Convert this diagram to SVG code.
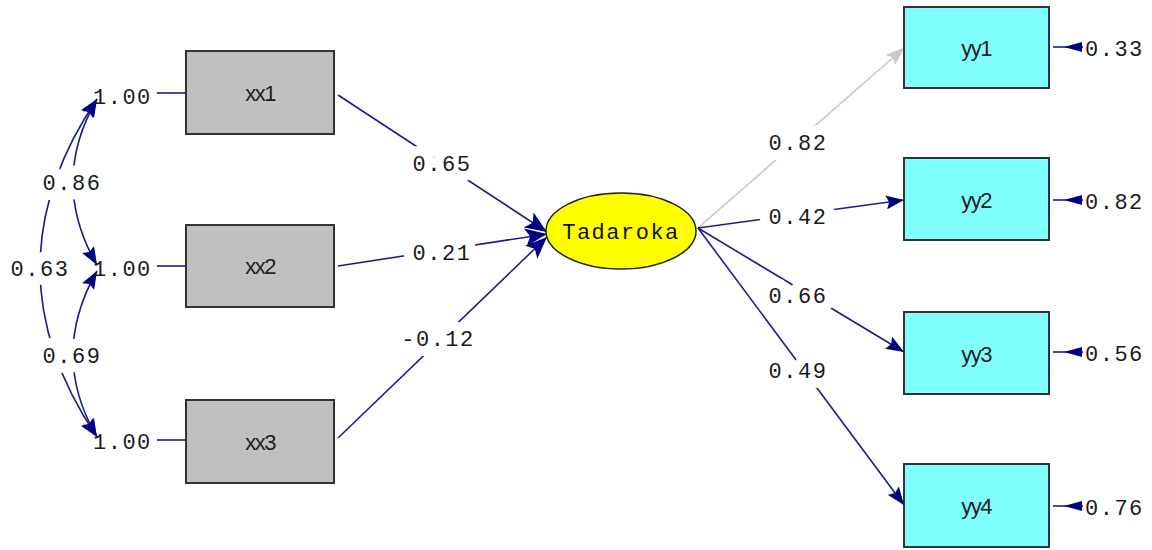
<svg xmlns="http://www.w3.org/2000/svg" width="1152" height="550" viewBox="0 0 1152 550">
  <style>
    .obs-x { fill: #c0c0c0; stroke: #333; stroke-width: 2; }
    .obs-y { fill: #80ffff; stroke: #333; stroke-width: 2; }
    .lat { fill: #ffff00; stroke: #222; stroke-width: 1.5; }
    .name { font-family: "Liberation Sans", Arial, sans-serif; font-size: 22px; fill: #222; text-anchor: middle; letter-spacing: -1.5px; }
    .latname { font-family: "Liberation Mono", "DejaVu Sans Mono", monospace; font-size: 22px; fill: #111; text-anchor: middle; letter-spacing: 1.5px; }
    .num { font-family: "Liberation Mono", "DejaVu Sans Mono", monospace; font-size: 22px; fill: #1a1a1a; letter-spacing: 1.5px; }
    .lbl { text-anchor: middle; stroke: #fff; stroke-width: 20px; paint-order: stroke; stroke-linejoin: round; }
    .path { fill: none; stroke: #1c1c8c; stroke-width: 1.6; }
    .path-gray { fill: none; stroke: #c8c8c8; stroke-width: 1.6; }
  </style>
  <defs>
    <marker id="head-big" markerUnits="userSpaceOnUse" markerWidth="24" markerHeight="18" refX="22" refY="9" orient="auto">
      <path d="M0,0 L22,9 L0,18 L5,9 z" fill="#000080"/>
    </marker>
    <marker id="head" markerUnits="userSpaceOnUse" markerWidth="20" markerHeight="14" refX="18" refY="7" orient="auto">
      <path d="M0,0 L18,7 L0,14 L3,7 z" fill="#000080"/>
    </marker>
    <marker id="head-gray" markerUnits="userSpaceOnUse" markerWidth="20" markerHeight="14" refX="18" refY="7" orient="auto">
      <path d="M0,0 L18,7 L0,14 L3,7 z" fill="#c8c8c8"/>
    </marker>
    <marker id="head-cov" markerUnits="userSpaceOnUse" markerWidth="20" markerHeight="14" refX="18" refY="7" orient="auto-start-reverse">
      <path d="M0,0 L18,7 L0,14 L3,7 z" fill="#000080"/>
    </marker>
  </defs>

  <!-- connectors -->
  <g id="connectors">
    <!-- covariances among the exogenous variables -->
    <path class="path" d="M97,99 Q-17,268 97,437" marker-start="url(#head-cov)" marker-end="url(#head-cov)"/>
    <path class="path" d="M97,99 Q49,182 97,265" marker-start="url(#head-cov)" marker-end="url(#head-cov)"/>
    <path class="path" d="M97,271 Q49,355 97,437" marker-start="url(#head-cov)" marker-end="url(#head-cov)"/>
    <!-- variance stubs -->
    <line class="path" x1="157" y1="93" x2="186" y2="93"/>
    <line class="path" x1="157" y1="266" x2="186" y2="266"/>
    <line class="path" x1="157" y1="440" x2="186" y2="440"/>
    <!-- structural paths into the latent variable -->
    <line class="path" x1="338" y1="95" x2="547" y2="232" marker-end="url(#head-big)"/>
    <line class="path" x1="338" y1="266" x2="547" y2="234" marker-end="url(#head-big)"/>
    <line class="path" x1="338" y1="438" x2="547" y2="237" marker-end="url(#head-big)"/>
    <!-- loadings -->
    <line class="path-gray" x1="698" y1="228" x2="904" y2="48" marker-end="url(#head-gray)"/>
    <line class="path" x1="698" y1="228" x2="904" y2="200" marker-end="url(#head)"/>
    <line class="path" x1="698" y1="228" x2="904" y2="352" marker-end="url(#head)"/>
    <line class="path" x1="698" y1="228" x2="904" y2="505" marker-end="url(#head)"/>
    <!-- error terms -->
    <line class="path" x1="1053" y1="47" x2="1083" y2="47"/>
    <path d="M1064,47 L1082,42 L1082,52 z" fill="#000080"/>
    <line class="path" x1="1053" y1="200" x2="1083" y2="200"/>
    <path d="M1064,200 L1082,195 L1082,205 z" fill="#000080"/>
    <line class="path" x1="1053" y1="352" x2="1083" y2="352"/>
    <path d="M1064,352 L1082,347 L1082,357 z" fill="#000080"/>
    <line class="path" x1="1053" y1="506" x2="1083" y2="506"/>
    <path d="M1064,506 L1082,501 L1082,511 z" fill="#000080"/>

    <!-- coefficient labels -->
    <text class="num lbl" x="72" y="190">0.86</text>
    <text class="num lbl" x="40" y="276">0.63</text>
    <text class="num lbl" x="72" y="363">0.69</text>
    <text class="num lbl" x="442" y="171">0.65</text>
    <text class="num lbl" x="442" y="260">0.21</text>
    <text class="num lbl" x="438" y="346">-0.12</text>
    <text class="num lbl" x="798" y="150">0.82</text>
    <text class="num lbl" x="798" y="224">0.42</text>
    <text class="num lbl" x="798" y="303">0.66</text>
    <text class="num lbl" x="798" y="378">0.49</text>
  </g>

  <!-- variances of the exogenous variables -->
  <text class="num" x="93" y="104">1.00</text>
  <text class="num" x="93" y="276">1.00</text>
  <text class="num" x="93" y="449">1.00</text>

  <!-- error variances -->
  <text class="num" x="1085" y="56">0.33</text>
  <text class="num" x="1085" y="209">0.82</text>
  <text class="num" x="1085" y="361">0.56</text>
  <text class="num" x="1085" y="515">0.76</text>

  <g id="xx1">
    <rect class="obs-x" x="186" y="51" width="148" height="83"/>
    <text class="name" x="260" y="101">xx1</text>
  </g>
  <g id="xx2">
    <rect class="obs-x" x="186" y="225" width="148" height="82"/>
    <text class="name" x="260" y="274">xx2</text>
  </g>
  <g id="xx3">
    <rect class="obs-x" x="186" y="400" width="148" height="83"/>
    <text class="name" x="260" y="450">xx3</text>
  </g>

  <g id="tadaroka">
    <ellipse class="lat" cx="621" cy="231" rx="75" ry="38"/>
    <text class="latname" x="621" y="239">Tadaroka</text>
  </g>

  <g id="yy1">
    <rect class="obs-y" x="904" y="7" width="145" height="81"/>
    <text class="name" x="976" y="56">yy1</text>
  </g>
  <g id="yy2">
    <rect class="obs-y" x="904" y="158" width="145" height="82"/>
    <text class="name" x="976" y="208">yy2</text>
  </g>
  <g id="yy3">
    <rect class="obs-y" x="904" y="312" width="145" height="82"/>
    <text class="name" x="976" y="362">yy3</text>
  </g>
  <g id="yy4">
    <rect class="obs-y" x="904" y="464" width="145" height="83"/>
    <text class="name" x="976" y="514">yy4</text>
  </g>
</svg>
